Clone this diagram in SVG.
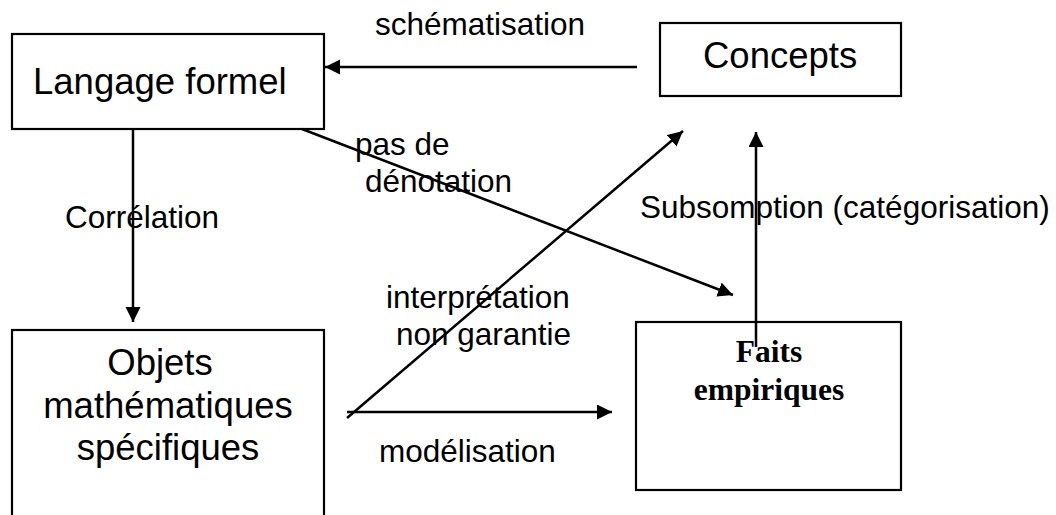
<svg xmlns="http://www.w3.org/2000/svg" width="1056" height="515" viewBox="0 0 1056 515">
<style>
.box{fill:#fff;stroke:#000;stroke-width:2.2}
.nt{font-family:"Liberation Sans",Arial,sans-serif;font-size:36.5px;fill:#000}
.lb{font-family:"Liberation Sans",Arial,sans-serif;font-size:31.5px;fill:#000}
.bt{font-family:"Liberation Serif","Times New Roman",serif;font-size:31.5px;font-weight:bold;fill:#000}
.ln{stroke:#000;stroke-width:2.5;fill:none;marker-end:url(#ah)}
</style>
<defs>
<marker id="ah" markerUnits="userSpaceOnUse" markerWidth="16" markerHeight="16" refX="15" refY="7.5" orient="auto">
<path d="M0,0 L15,7.5 L0,15 Z" fill="#000"/>
</marker>
</defs>
<rect width="1056" height="515" fill="#fff"/>
<g id="langage">
<rect class="box" x="12" y="34" width="312" height="95"/>
<text class="nt" x="33" y="94">Langage formel</text>
</g>
<g id="concepts">
<rect class="box" x="660" y="23" width="241" height="73"/>
<text class="nt" x="703" y="68">Concepts</text>
</g>
<g id="objets">
<rect class="box" x="12" y="330" width="312" height="200"/>
<text class="nt" x="160" y="375" text-anchor="middle">Objets</text>
<text class="nt" x="168" y="418" text-anchor="middle">mathématiques</text>
<text class="nt" x="168" y="460" text-anchor="middle">spécifiques</text>
</g>
<g id="faits">
<rect class="box" x="636" y="322" width="265" height="168"/>
<text class="bt" x="769" y="362" text-anchor="middle">Faits</text>
<text class="bt" x="769" y="400" text-anchor="middle">empiriques</text>
</g>
<g id="connectors">
<line class="ln" x1="637" y1="67" x2="325" y2="67"/>
<line class="ln" x1="133" y1="129" x2="133" y2="322"/>
<line class="ln" x1="302" y1="129" x2="733" y2="295"/>
<line class="ln" x1="347" y1="418" x2="683" y2="131"/>
<line class="ln" x1="347" y1="412" x2="612" y2="412"/>
<line class="ln" x1="756" y1="347" x2="756" y2="132"/>
</g>
<g id="labels">
<text class="lb" x="375" y="35">schématisation</text>
<text class="lb" x="355" y="155">pas de</text>
<text class="lb" x="365" y="192">dénotation</text>
<text class="lb" x="65" y="228">Corrélation</text>
<text class="lb" x="640" y="218">Subsomption (catégorisation)</text>
<text class="lb" x="386" y="308">interprétation</text>
<text class="lb" x="396" y="345">non garantie</text>
<text class="lb" x="379" y="462">modélisation</text>
</g>
</svg>
